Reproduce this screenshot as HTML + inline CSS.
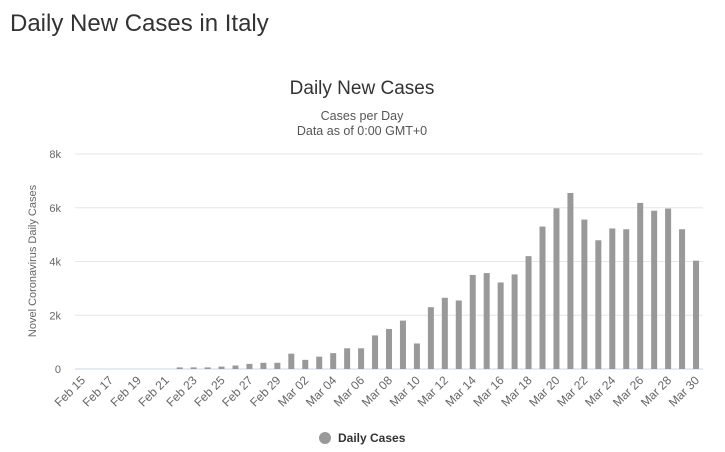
<!DOCTYPE html>
<html><head><meta charset="utf-8"><style>
body{margin:0;background:#fff;font-family:"Liberation Sans",sans-serif;}
#wrap{position:relative;width:725px;height:452px;overflow:hidden;}
h1{position:absolute;left:10px;top:10px;margin:0;font-size:24px;font-weight:normal;color:#333;}
</style></head><body>
<div id="wrap">
<h1>Daily New Cases in Italy</h1>
<svg id="chart" width="725" height="452" style="position:absolute;left:0;top:0"></svg>
</div>
<script>
const categories=["Feb 15","Feb 16","Feb 17","Feb 18","Feb 19","Feb 20","Feb 21","Feb 22","Feb 23","Feb 24","Feb 25","Feb 26","Feb 27","Feb 28","Feb 29","Mar 01","Mar 02","Mar 03","Mar 04","Mar 05","Mar 06","Mar 07","Mar 08","Mar 09","Mar 10","Mar 11","Mar 12","Mar 13","Mar 14","Mar 15","Mar 16","Mar 17","Mar 18","Mar 19","Mar 20","Mar 21","Mar 22","Mar 23","Mar 24","Mar 25","Mar 26","Mar 27","Mar 28","Mar 29","Mar 30"];
const dailyCases=[0,0,0,0,0,0,0,60,60,60,90,130,190,230,230,570,340,460,590,770,770,1250,1490,1800,950,2300,2650,2550,3500,3570,3220,3520,4200,5300,5980,6550,5560,4790,5230,5200,6180,5890,5970,5200,4030];
const yTicks=[0,2000,4000,6000,8000];
const yTickLabels=["0","2k","4k","6k","8k"];
const NS="http://www.w3.org/2000/svg";
const svg=document.getElementById('chart');
const X0=75,X1=703,Y0=369,Y1=154,YMAX=8000;
const step=(X1-X0)/categories.length;
function xScale(i){return X0+(i+0.5)*step;}
function yScale(v){return Y0-(v/YMAX)*(Y0-Y1);}
function mk(tag,attrs,text){const e=document.createElementNS(NS,tag);for(const k in attrs)e.setAttribute(k,attrs[k]);if(text!==undefined)e.textContent=text;svg.appendChild(e);return e;}
let t=mk('text',{x:362,y:94,'text-anchor':'middle','font-size':19,fill:'#333'},'Daily New Cases');


t=mk('text',{x:362,y:120,'text-anchor':'middle','font-size':12.5,fill:'#555'},'Cases per Day');


t=mk('text',{x:362,y:135,'text-anchor':'middle','font-size':12.5,fill:'#555'},'Data as of 0:00 GMT+0');


yTicks.forEach((v,i)=>{
  const y=yScale(v);
  const g=mk('line',{x1:X0,x2:X1,y1:y,y2:y,stroke:i===0?'#ccd6eb':'#e6e6e6','stroke-width':1});
  
  
  const l=mk('text',{x:61,y:y+4,'text-anchor':'end','font-size':11,fill:'#666'},yTickLabels[i]);
  
  
});
t=mk('text',{x:0,y:0,'text-anchor':'middle','font-size':11,fill:'#666',transform:'translate(36,261) rotate(-90)'},'Novel Coronavirus Daily Cases');


dailyCases.forEach((v,i)=>{
  const x=xScale(i),y=yScale(v);
  const b=mk('rect',{x:x-3,y:y,width:6,height:Math.max(0,Y0-y),fill:'#999'});
  
  
});
categories.forEach((c,i)=>{
  if(i%2!==0)return;
  const x=xScale(i)+4,y=381;
  const l=mk('text',{x:x,y:y,'text-anchor':'end','font-size':12,fill:'#666',transform:`rotate(-45 ${x} ${y})`},c);
  
  
});
const lc=mk('circle',{cx:325,cy:438,r:6,fill:'#999'});


t=mk('text',{x:338,y:442,'font-size':12,'font-weight':'bold',fill:'#333'},'Daily Cases');


</script>
</body></html>
